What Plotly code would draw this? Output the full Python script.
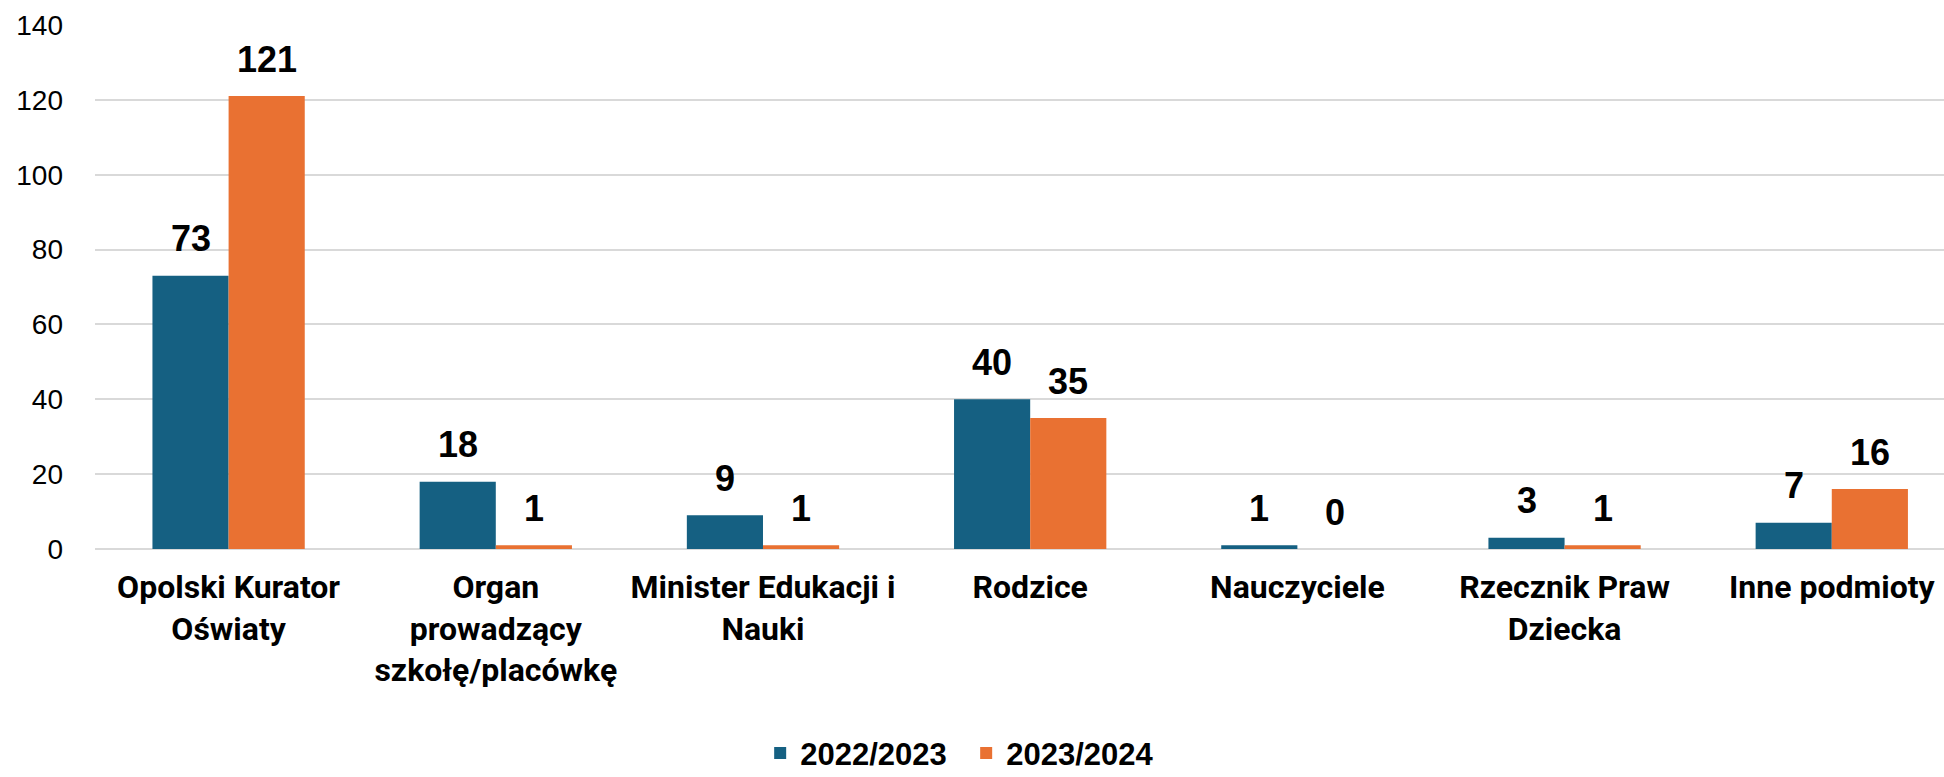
import plotly.graph_objects as go

categories = [
    "Opolski Kurator<br>Oświaty",
    "Organ<br>prowadzący<br>szkołę/placówkę",
    "Minister Edukacji i<br>Nauki",
    "Rodzice",
    "Nauczyciele",
    "Rzecznik Praw<br>Dziecka",
    "Inne podmioty",
]
series_names = ["2022/2023", "2023/2024"]
values_2022 = [73, 18, 9, 40, 1, 3, 7]
values_2023 = [121, 1, 1, 35, 0, 1, 16]
colors = ["#156082", "#E97132"]
y_ticks = [0, 20, 40, 60, 80, 100, 120, 140]

fig = go.Figure()
for name, vals, col in zip(series_names, [values_2022, values_2023], colors):
    fig.add_trace(go.Bar(
        x=categories, y=vals, name=name,
        marker=dict(color=col, line=dict(width=0)),
    ))

annotations = []
for vals, shift in zip([values_2022, values_2023], [-38, 38]):
    for c, v in zip(categories, vals):
        annotations.append(dict(
            x=c, y=v, xref="x", yref="y", text=str(v), showarrow=False,
            xshift=shift, yshift=37, yanchor="middle", xanchor="center",
            font=dict(family="Liberation Sans", size=36, color="#000000", weight="bold"),
        ))

fig.update_layout(
    width=1944, height=777,
    margin=dict(l=95, r=0, t=25, b=228, autoexpand=False),
    paper_bgcolor="white", plot_bgcolor="white",
    barmode="group", bargap=0.43, bargroupgap=0,
    showlegend=True,
    legend=dict(
        orientation="h", xref="container", x=0.497, xanchor="center",
        y=-0.39, yanchor="middle",
        font=dict(family="Liberation Sans", size=31, color="#000000", weight="bold"),
        traceorder="normal", entrywidth=161,
    ),
    annotations=annotations,
)
fig.update_xaxes(
    range=[-0.5, 6.42], tickangle=0, showgrid=False, showline=False,
    ticks="", ticklabelstandoff=16,
    tickfont=dict(family="Roboto", size=32, color="#000000", weight="bold"),
)
fig.update_yaxes(
    range=[0, 140], tickvals=y_ticks, showgrid=True, gridcolor="#D9D9D9", gridwidth=1.5,
    zeroline=True, zerolinecolor="#D9D9D9", zerolinewidth=1.5, showline=False,
    ticks="", ticklabelstandoff=31,
    tickfont=dict(family="Liberation Sans", size=28, color="#000000"),
)

fig.write_html("out.html", config={"displayModeBar": False},
               post_script="document.body.style.margin='0';")
